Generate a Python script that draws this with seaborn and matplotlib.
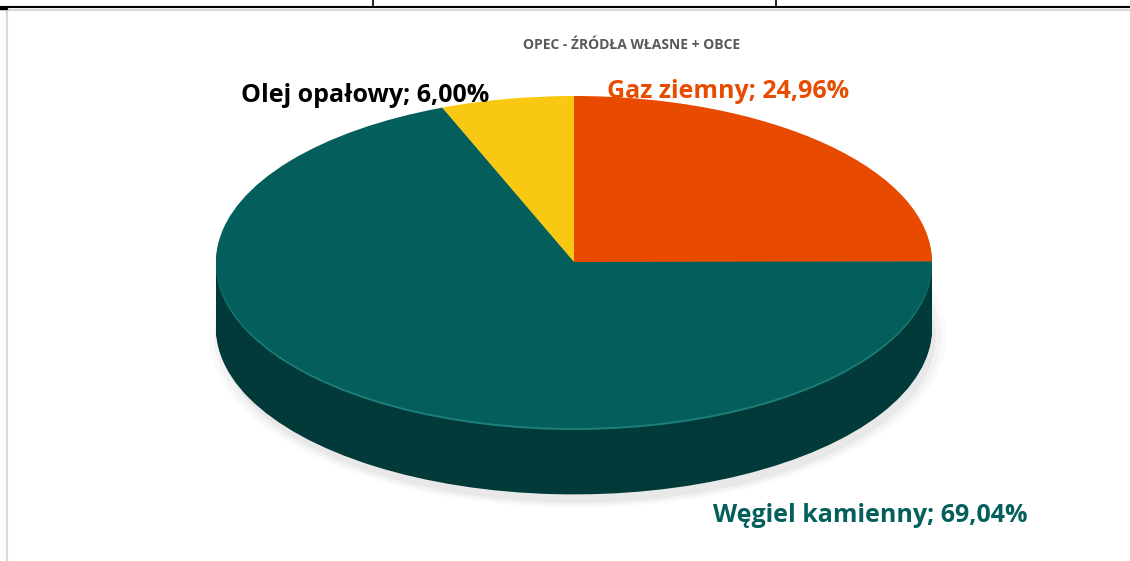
import numpy as np
import seaborn as sns
import matplotlib.pyplot as plt
from matplotlib.lines import Line2D

# data
categories = ['Gaz ziemny', 'Węgiel kamienny', 'Olej opałowy']
shares = [24.96, 69.04, 6.00]
colors = ['#E84A00', '#035E5C', '#F8C812']
wall_colors = ['#8a2c00', '#013a38', '#9a7a08']
label_colors = ['#E84C00', '#035F5B', '#000000']
title = 'OPEC - ŹRÓDŁA WŁASNE + OBCE'

sns.set_theme(style='white')
plt.rcParams['font.family'] = ['Open Sans', 'DejaVu Sans']

fig = plt.figure(figsize=(11.3, 5.61), dpi=100)
ax = fig.add_axes([0, 0, 1, 1])

depth = 0.40
n_layers = 45

# soft shadow under the pie
for r, a in zip([1.03, 1.015, 1.0], [0.02, 0.03, 0.04]):
    ax.pie([1], colors=['#000000'], radius=r, center=(0.01, -depth - 0.05),
           startangle=90, wedgeprops=dict(alpha=a, linewidth=0))

# side wall: stacked darker copies of the pie
for d in np.linspace(depth, 0.02, n_layers):
    ax.pie(shares, colors=wall_colors, center=(0, -d), startangle=90,
           counterclock=False, wedgeprops=dict(linewidth=0))

# light rim just under the top edge
ax.pie(shares, colors=['#1C7F7A'] * 3, center=(0, -0.012),
       startangle=90, counterclock=False, wedgeprops=dict(linewidth=0))

# top face
ax.pie(shares, colors=colors, startangle=90, counterclock=False,
       wedgeprops=dict(linewidth=0))

ax.set_aspect('auto')
ax.set_xlim(-574 / 358, 556 / 358)
ax.set_ylim(-299 / 166, 262 / 166)
ax.axis('off')

# labels
fig.text(632 / 1130, 1 - 45 / 561, title, ha='center', va='center', fontsize=10,
         fontweight='bold', color='#595959')
label_pos = [(728, 91), (870, 515), (365, 95)]
for cat, val, col, (px, py) in zip(categories, shares, label_colors, label_pos):
    txt = f'{cat}; {val:.2f}%'.replace('.', ',')
    fig.text(px / 1130, 1 - py / 561, txt, ha='center', va='center',
             fontsize=18, fontweight='bold', color=col)

# frame lines
fig.add_artist(Line2D([0, 1], [1 - 7 / 561] * 2, color='black', lw=1.5))
for vx in [373, 776]:
    fig.add_artist(Line2D([vx / 1130] * 2, [1, 1 - 7 / 561], color='black', lw=1.2))
fig.add_artist(Line2D([7 / 1130, 1], [1 - 9.5 / 561] * 2, color='#d9d9d9', lw=1.5))
fig.add_artist(Line2D([7 / 1130] * 2, [0, 1 - 9.5 / 561], color='#d9d9d9', lw=1.5))
fig.add_artist(Line2D([0, 6 / 1130], [1 - 8 / 561] * 2, color='black', lw=2.5))

plt.savefig('out.png', dpi=100)
